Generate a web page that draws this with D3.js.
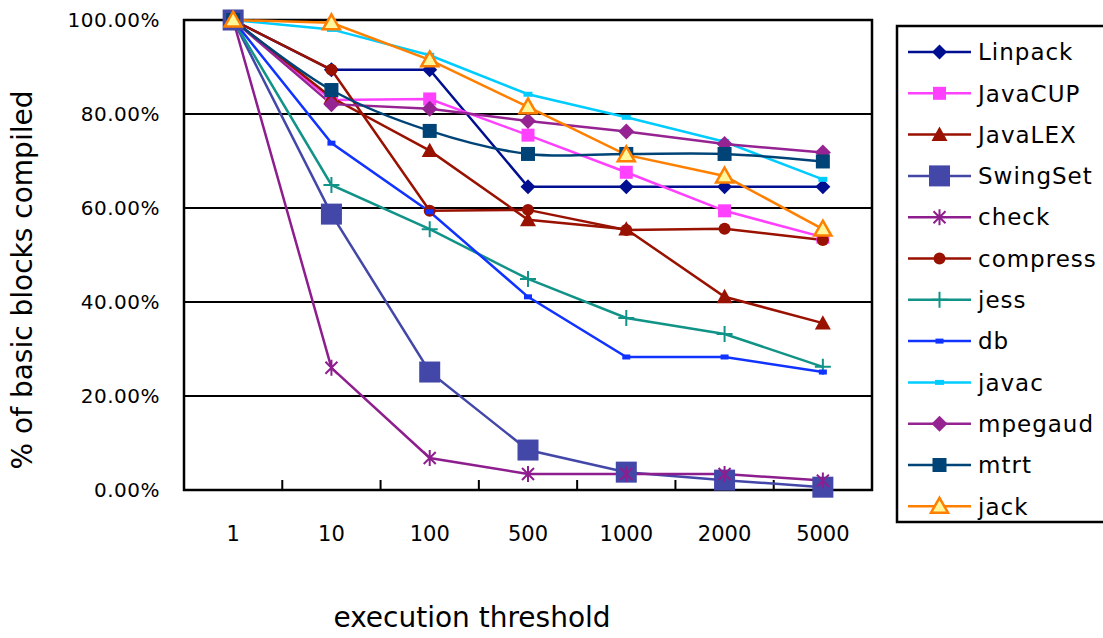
<!DOCTYPE html>
<html>
<head>
<meta charset="utf-8">
<script src="https://cdn.jsdelivr.net/npm/d3@7"></script>
<style>
  body { margin: 0; background: #fff; }
  text { font-family: "DejaVu Sans", "Noto Sans", sans-serif; fill: #000; }
</style>
</head>
<body>
<svg id="chart" width="1103" height="638"></svg>
<script>
// thresholds along the x axis
const thresholds = ["1", "10", "100", "500", "1000", "2000", "5000"];
const yTicks = [0, 20, 40, 60, 80, 100];

// % of basic blocks compiled
const linpack  = [100, 89.4, 89.4, 64.5, 64.5, 64.5, 64.5];
const javacup  = [100, 83.0, 83.2, 75.5, 67.6, 59.4, 53.8];
const javalex  = [100, 83.5, 72.2, 57.5, 55.5, 41.1, 35.5];
const swingset = [100, 58.7, 25.1, 8.5, 3.8, 2.1, 0.6];
const check    = [100, 26.0, 6.8, 3.4, 3.4, 3.4, 2.0];
const compress = [100, 89.4, 59.4, 59.6, 55.3, 55.6, 53.2];
const jess     = [100, 64.9, 55.5, 44.9, 36.6, 33.2, 26.2];
const db       = [100, 73.8, 59.2, 41.1, 28.3, 28.3, 25.1];
const javac    = [100, 98.0, 92.5, 84.2, 79.3, 74.1, 66.1];
const mpegaud  = [100, 82.1, 81.1, 78.5, 76.3, 73.6, 71.8];
const mtrt     = [100, 85.1, 76.4, 71.5, 71.5, 71.5, 69.9];
const jack     = [100, 99.4, 91.5, 81.5, 71.3, 66.8, 55.5];

const series = [
  { name: "Linpack",  values: linpack,  color: "#000F8F", marker: "diamond", size: 15 },
  { name: "JavaCUP",  values: javacup,  color: "#FF40FF", marker: "square", size: 13 },
  { name: "JavaLEX",  values: javalex,  color: "#991100", marker: "triangle", size: 16 },
  { name: "SwingSet", values: swingset, color: "#4347A8", marker: "square", size: 21 },
  { name: "check",    values: check,    color: "#8E1E8E", marker: "asterisk", size: 16 },
  { name: "compress", values: compress, color: "#991100", marker: "circle", size: 12 },
  { name: "jess",     values: jess,     color: "#119388", marker: "plus", size: 16 },
  { name: "db",       values: db,       color: "#1133FF", marker: "dash", size: 8 },
  { name: "javac",    values: javac,    color: "#00CCFF", marker: "dash", size: 9 },
  { name: "mpegaud",  values: mpegaud,  color: "#962392", marker: "diamond", size: 16 },
  { name: "mtrt",     values: mtrt,     color: "#004477", marker: "square", size: 14, smooth: true },
  { name: "jack",     values: jack,     color: "#FF7F00", marker: "hollowTri", size: 17 }
];

const svg = d3.select("#chart");
const plot = { left: 184, right: 872, top: 20, bottom: 490 };

const x = d3.scaleBand().domain(thresholds).range([plot.left, plot.right]);
const y = d3.scaleLinear().domain([0, 100]).range([plot.bottom, plot.top]);

// grid lines
svg.append("g")
  .selectAll("line")
  .data(yTicks)
  .join("line")
  .attr("x1", plot.left).attr("x2", plot.right)
  .attr("y1", d => y(d)).attr("y2", d => y(d))
  .attr("stroke", "#000").attr("stroke-width", 2);

// y axis labels
svg.append("g")
  .attr("transform", "translate(" + plot.left + ",0)")
  .call(d3.axisLeft(y).tickValues(yTicks).tickSize(0).tickPadding(24)
    .tickFormat(d => d.toFixed(2) + "%"))
  .call(g => g.select(".domain").remove())
  .selectAll("text")
  .style("font-size", "20px")
  .style("letter-spacing", "0.5px")
  .attr("font-family", null);

// x axis
const xAxis = svg.append("g")
  .attr("transform", "translate(0," + plot.bottom + ")")
  .call(d3.axisBottom(x).tickSize(0).tickPadding(36));
xAxis.select(".domain").remove();
xAxis.selectAll("text").style("font-size", "21px").attr("font-family", null);

// small ticks between categories, pointing into the plot
svg.append("g")
  .selectAll("line")
  .data(thresholds.slice(1))
  .join("line")
  .attr("x1", d => x(d)).attr("x2", d => x(d))
  .attr("y1", plot.bottom).attr("y2", plot.bottom - 10)
  .attr("stroke", "#000").attr("stroke-width", 2);

// plot frame
svg.append("rect")
  .attr("x", plot.left).attr("y", plot.top)
  .attr("width", plot.right - plot.left).attr("height", plot.bottom - plot.top)
  .attr("fill", "none").attr("stroke", "#000").attr("stroke-width", 2.5);

function drawMarker(g, s, cx, cy) {
  const r = s.size / 2;
  if (s.marker === "diamond") {
    g.append("path").attr("d", `M${cx},${cy - r}L${cx + r},${cy}L${cx},${cy + r}L${cx - r},${cy}Z`)
      .attr("fill", s.color);
  } else if (s.marker === "square") {
    g.append("rect").attr("x", cx - r).attr("y", cy - r)
      .attr("width", s.size).attr("height", s.size).attr("fill", s.color);
  } else if (s.marker === "triangle") {
    g.append("path").attr("d", `M${cx},${cy - r}L${cx + r},${cy + r * 0.8}L${cx - r},${cy + r * 0.8}Z`)
      .attr("fill", s.color);
  } else if (s.marker === "hollowTri") {
    g.append("path").attr("d", `M${cx},${cy - r}L${cx + r},${cy + r * 0.75}L${cx - r},${cy + r * 0.75}Z`)
      .attr("fill", "#FFF799").attr("stroke", s.color).attr("stroke-width", 2.5)
      .attr("stroke-linejoin", "miter");
  } else if (s.marker === "circle") {
    g.append("circle").attr("cx", cx).attr("cy", cy).attr("r", r).attr("fill", s.color);
  } else if (s.marker === "dash") {
    g.append("rect").attr("x", cx - r).attr("y", cy - 2.5)
      .attr("width", s.size).attr("height", 5).attr("fill", s.color);
  } else if (s.marker === "plus") {
    g.append("path").attr("d", `M${cx - r},${cy}H${cx + r}M${cx},${cy - r}V${cy + r}`)
      .attr("stroke", s.color).attr("stroke-width", 2).attr("fill", "none");
  } else if (s.marker === "asterisk") {
    const d = r * 0.75;
    g.append("path")
      .attr("d", `M${cx - d},${cy - d}L${cx + d},${cy + d}M${cx - d},${cy + d}L${cx + d},${cy - d}M${cx},${cy - r}V${cy + r}`)
      .attr("stroke", s.color).attr("stroke-width", 2).attr("fill", "none");
  }
}

const cx = d => x(d) + x.bandwidth() / 2;

// lines
series.forEach(s => {
  const line = d3.line()
    .x((v, i) => cx(thresholds[i]))
    .y(v => y(v))
    .curve(s.smooth ? d3.curveCatmullRom.alpha(0.5) : d3.curveLinear);
  svg.append("path")
    .datum(s.values)
    .attr("d", line)
    .attr("fill", "none")
    .attr("stroke", s.color)
    .attr("stroke-width", 2.5);
});

// markers on top
series.forEach(s => {
  const g = svg.append("g");
  s.values.forEach((v, i) => drawMarker(g, s, cx(thresholds[i]), y(v)));
});

// legend
const legend = svg.append("g");
legend.append("rect")
  .attr("x", 897).attr("y", 26).attr("width", 210).attr("height", 496)
  .attr("fill", "#fff").attr("stroke", "#000").attr("stroke-width", 2.5);
series.forEach((s, i) => {
  const ly = 52 + i * 41.3;
  const g = legend.append("g");
  g.append("line").attr("x1", 908).attr("x2", 971).attr("y1", ly).attr("y2", ly)
    .attr("stroke", s.color).attr("stroke-width", 2.5);
  drawMarker(g, s, 939.5, ly);
  g.append("text").attr("x", 978).attr("y", ly).attr("dy", "0.36em")
    .style("font-size", "23px").style("letter-spacing", "1px").text(s.name);
});

// axis titles
svg.append("text")
  .attr("x", 472).attr("y", 627)
  .attr("text-anchor", "middle")
  .style("font-size", "28px")
  .text("execution threshold");

svg.append("text")
  .attr("transform", "translate(32,280) rotate(-90)")
  .attr("text-anchor", "middle")
  .style("font-size", "28px")
  .text("% of basic blocks compiled");
</script>
</body>
</html>
